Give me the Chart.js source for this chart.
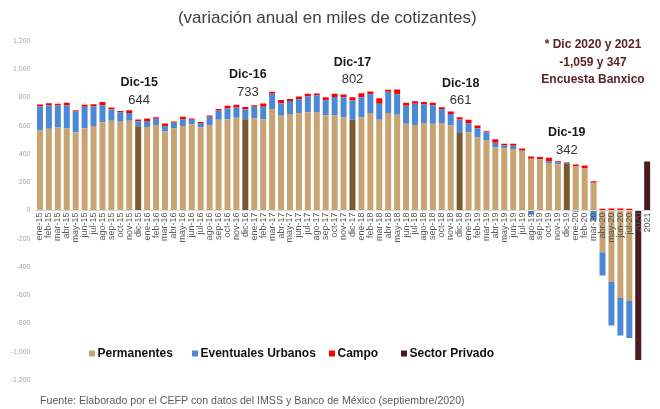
<!DOCTYPE html>
<html><head><meta charset="utf-8">
<script src="https://cdn.jsdelivr.net/npm/chart.js@4.4.0/dist/chart.umd.min.js"></script>
<style>html,body{margin:0;padding:0;background:#fff;}#wrap{position:relative;width:660px;height:409px;}</style>
</head><body><div id="wrap"><canvas id="c" width="660" height="409"></canvas></div>
<script>
const categories = [
  'ene-15','feb-15','mar-15','abr-15','may-15','jun-15','jul-15','ago-15','sep-15','oct-15','nov-15','dic-15',
  'ene-16','feb-16','mar-16','abr-16','may-16','jun-16','jul-16','ago-16','sep-16','oct-16','nov-16','dic-16',
  'ene-17','feb-17','mar-17','abr-17','may-17','jun-17','jul-17','ago-17','sep-17','oct-17','nov-17','dic-17',
  'ene-18','feb-18','mar-18','abr-18','may-18','jun-18','jul-18','ago-18','sep-18','oct-18','nov-18','dic-18',
  'ene-19','feb-19','mar-19','abr-19','may-19','jun-19','jul-19','ago-19','sep-19','oct-19','nov-19','dic-19',
  'ene-20','feb-20','mar-20','abr-20','may-20','jun-20','jul-20','2020','2021'
];
const permanentes = [
  566,578,590,583,554,583,599,625,635,628,635,597,
  592,606,561,583,599,611,590,606,642,646,656,646,
  653,646,719,670,684,689,693,698,675,675,660,642,
  660,691,642,691,677,615,606,620,615,620,604,554,
  554,517,495,448,441,436,422,366,361,337,328,330,
  314,297,196,-295,-507,-620,-641,null,null
];
const eventuales = [
  170,167,153,160,147,151,139,120,80,66,56,35,
  42,43,36,38,47,31,30,57,66,76,73,71,
  81,88,107,90,92,99,114,118,106,129,142,136,
  142,132,113,149,146,126,149,130,130,99,80,90,
  64,65,57,31,19,22,3,-28,2,10,14,8,
  -8,0,-71,-165,-307,-265,-262,null,null
];
const campo = [
  14,15,12,19,9,14,15,24,14,11,19,12,
  17,11,19,9,17,9,7,9,11,19,19,16,
  11,23,14,23,14,19,19,12,21,22,19,24,
  28,19,40,14,33,21,19,19,17,12,17,17,
  24,19,9,26,12,14,14,16,16,26,7,4,
  11,21,11,12,15,15,12,null,null
];
const sectorPrivado = [
  null,null,null,null,null,null,null,null,null,null,null,null,
  null,null,null,null,null,null,null,null,null,null,null,null,
  null,null,null,null,null,null,null,null,null,null,null,null,
  null,null,null,null,null,null,null,null,null,null,null,null,
  null,null,null,null,null,null,null,null,null,null,null,null,
  null,null,null,null,null,null,null,-1059,347
];
const diciembres = ['dic-15','dic-16','dic-17','dic-18','dic-19'];
const seriesNames = ['Permanentes','Eventuales Urbanos','Campo','Sector Privado'];
const titleText = '(variación anual en miles de cotizantes)';
const footerText = 'Fuente: Elaborado por el CEFP con datos del IMSS y Banco de México (septiembre/2020)';

const COLORS = {perm:'#c8a472', permDic:'#7a5a2f', even:'#4b88d8', campo:'#ff0000', priv:'#4a1a1e'};
const FONT = '"Liberation Sans", Arial, sans-serif';

// annotation layout (text offsets above bar tops, in px)
const notes = [
  {cat:'dic-15', title:'Dic-15', dx:1, titleGap:37, valueGap:19},
  {cat:'dic-16', title:'Dic-16', dx:2.5, titleGap:32, valueGap:15},
  {cat:'dic-17', title:'Dic-17', dx:0, titleGap:35, valueGap:18},
  {cat:'dic-18', title:'Dic-18', dx:1, titleGap:34, valueGap:17},
  {cat:'dic-19', title:'Dic-19', dx:0, titleGap:30, valueGap:12}
];

const fmt = v => v.toLocaleString('en-US');

const overlay = {
  id:'overlay',
  afterDraw(chart){
    const {ctx} = chart; const x = chart.scales.x, y = chart.scales.y;
    ctx.save();
    ctx.textAlign='center'; ctx.textBaseline='middle';
    notes.forEach(n=>{
      const i = categories.indexOf(n.cat);
      const total = permanentes[i]+eventuales[i]+campo[i];
      const px = x.getPixelForValue(i)+n.dx;
      const top = y.getPixelForValue(total);
      ctx.font = 'bold 12.5px '+FONT; ctx.fillStyle='#1a1a1a';
      ctx.fillText(n.title, px, top-n.titleGap);
      ctx.font = '13px '+FONT; ctx.fillStyle='#333333';
      ctx.fillText(fmt(total), px, top-n.valueGap);
    });
    // Banxico note
    const i20 = categories.indexOf('2020'), i21 = categories.indexOf('2021');
    ctx.font = 'bold 12px '+FONT; ctx.fillStyle='#5b1f24';
    const lines = ['* Dic 2020 y 2021', fmt(sectorPrivado[i20])+' y '+fmt(sectorPrivado[i21]), 'Encuesta Banxico'];
    [45,62.5,80].forEach((yy,k)=>ctx.fillText(lines[k], 593, yy));
    // legend
    const legendX = [89,192,329,401];
    const legendCols = [COLORS.perm, COLORS.even, COLORS.campo, COLORS.priv];
    ctx.textAlign='left';
    ctx.font = 'bold 12px '+FONT; ctx.fillStyle='#000';
    chart.data.datasets.forEach((ds,k)=>{
      ctx.fillStyle = legendCols[k];
      ctx.fillRect(legendX[k], 350.5, 6, 6);
      ctx.fillStyle = '#111';
      ctx.fillText(ds.label, legendX[k]+8.5, 354);
    });
    // footer
    let fs = 11;
    ctx.font = fs+'px '+FONT;
    const w = ctx.measureText(footerText).width;
    fs = fs*425/w;
    ctx.font = fs.toFixed(2)+'px '+FONT; ctx.fillStyle='#595959';
    ctx.fillText(footerText, 40, 401);
    ctx.restore();
  }
};

new Chart(document.getElementById('c'), {
  type:'bar',
  data:{
    labels: categories,
    datasets:[
      {label:seriesNames[0], data:permanentes, backgroundColor:categories.map(c=>diciembres.includes(c)?COLORS.permDic:COLORS.perm)},
      {label:seriesNames[1], data:eventuales, backgroundColor:COLORS.even},
      {label:seriesNames[2], data:campo, backgroundColor:COLORS.campo},
      {label:seriesNames[3], data:sectorPrivado, backgroundColor:COLORS.priv}
    ]
  },
  options:{
    responsive:false, animation:false, devicePixelRatio:1,
    layout:{padding:{left:0,right:5.5,top:0,bottom:29}},
    datasets:{bar:{barPercentage:0.67, categoryPercentage:1, borderWidth:0}},
    plugins:{
      legend:{display:false}, tooltip:{enabled:false},
      title:{display:true, text:titleText, color:'#404040', font:{family:FONT, size:17, weight:'normal'}, padding:{top:8,bottom:12.6}}
    },
    scales:{
      x:{
        stacked:true, position:{y:0},
        grid:{display:false, drawTicks:false},
        border:{display:true, color:'#d9d9d9', width:1, z:1},
        ticks:{z:1, autoSkip:false, minRotation:90, maxRotation:90, padding:2, color:'#595959', font:{family:FONT, size:9}}
      },
      y:{
        stacked:true, min:-1200, max:1200,
        grid:{display:false, drawTicks:false},
        border:{display:false},
        ticks:{stepSize:200, padding:5, color:'#a6a6a6', font:{family:FONT, size:7}, callback:v=>fmt(v)},
        afterFit:s=>{s.width=35.5;}
      }
    }
  },
  plugins:[overlay]
});
</script></body></html>
